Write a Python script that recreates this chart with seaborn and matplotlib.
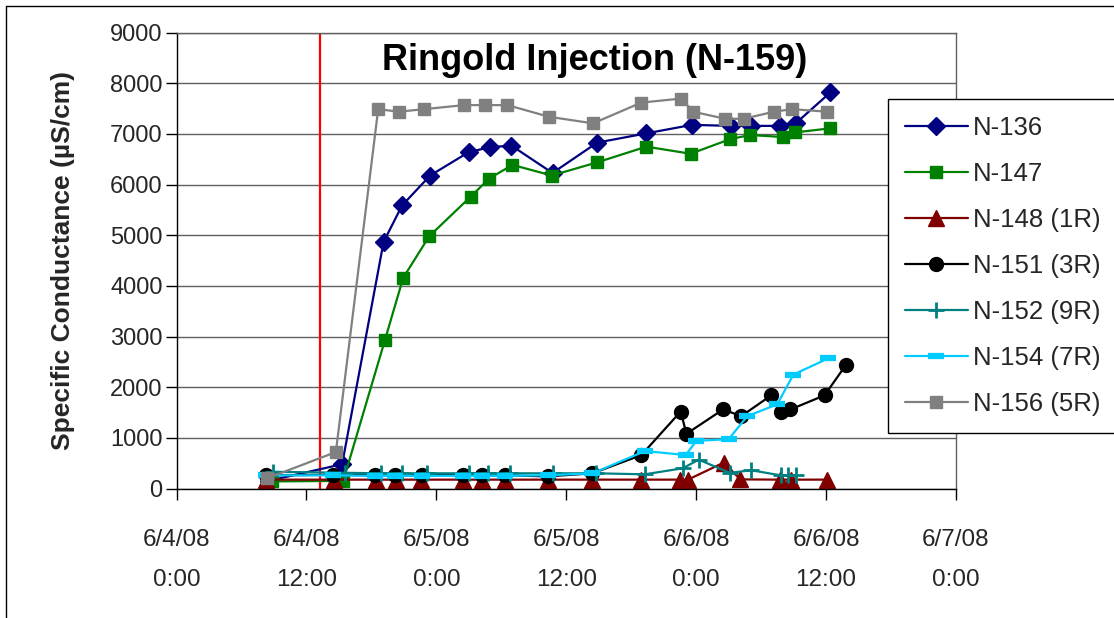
import numpy as np
import pandas as pd
import matplotlib
matplotlib.use("Agg")
import matplotlib.pyplot as plt
import seaborn as sns
from matplotlib.lines import Line2D

# ---------------- data (hours since 6/4/08 0:00, specific conductance µS/cm) ----------------
n136_hours = [8.5, 15.3, 19.13, 20.84, 23.43, 26.98, 28.94, 30.94, 34.73, 38.86, 43.34, 47.61, 51.25, 53.03, 55.71, 57.19, 60.39]
n136_vals = [150, 480, 4870, 5590, 6180, 6640, 6740, 6770, 6230, 6830, 7010, 7180, 7160, 7160, 7160, 7210, 7820]

n147_hours = [8.8, 15.4, 19.25, 20.94, 23.34, 27.16, 28.88, 31.03, 34.66, 38.86, 43.40, 47.49, 51.16, 53.00, 56.01, 57.09, 60.32]
n147_vals = [140, 150, 2930, 4160, 4980, 5760, 6120, 6390, 6180, 6440, 6750, 6610, 6900, 6980, 6940, 7030, 7110]

n148_hours = [8.26, 14.54, 18.46, 20.26, 22.57, 26.45, 28.25, 30.37, 34.34, 38.40, 42.88, 46.48, 47.24, 50.54, 52.08, 55.71, 56.79, 60.05]
n148_vals = [175, 175, 175, 175, 175, 175, 175, 175, 175, 175, 175, 175, 175, 510, 180, 175, 175, 175]

n151_hours = [8.26, 14.48, 18.32, 20.17, 22.63, 26.48, 28.18, 30.32, 34.32, 38.42, 42.94, 46.57, 47.10, 50.48, 52.17, 54.94, 55.80, 56.70, 59.86, 61.80]
n151_vals = [260, 270, 260, 260, 260, 270, 260, 260, 240, 300, 660, 1520, 1080, 1560, 1430, 1840, 1510, 1560, 1840, 2430]

n152_hours = [8.88, 15.55, 18.88, 20.79, 23.10, 27.03, 28.73, 30.79, 34.73, 38.79, 43.25, 46.78, 48.23, 51.09, 53.10, 55.80, 56.47, 57.25]
n152_vals = [330, 310, 300, 300, 300, 300, 300, 300, 300, 300, 280, 400, 570, 310, 360, 260, 260, 260]

n154_hours = [8.26, 14.45, 18.32, 20.17, 22.63, 26.45, 28.20, 30.32, 34.32, 38.42, 43.29, 47.03, 48.02, 51.00, 52.73, 55.48, 56.98, 60.21]
n154_vals = [260, 260, 250, 250, 250, 250, 250, 250, 260, 300, 740, 660, 940, 975, 1430, 1660, 2250, 2570]

n156_hours = [8.35, 14.72, 18.63, 20.54, 22.87, 26.54, 28.45, 30.57, 34.41, 38.47, 42.94, 46.63, 47.71, 50.70, 52.39, 55.18, 56.88, 60.11]
n156_vals = [200, 720, 7490, 7440, 7490, 7570, 7570, 7570, 7340, 7210, 7620, 7700, 7440, 7300, 7300, 7440, 7490, 7440]

series_names = ["N-136", "N-147", "N-148 (1R)", "N-151 (3R)", "N-152 (9R)", "N-154 (7R)", "N-156 (5R)"]
injection_hour = 13.3

x_ticks = [0, 12, 24, 36, 48, 60, 72]
x_tick_labels = ["6/4/08\n0:00", "6/4/08\n12:00", "6/5/08\n0:00", "6/5/08\n12:00",
                 "6/6/08\n0:00", "6/6/08\n12:00", "6/7/08\n0:00"]
y_ticks = [0, 1000, 2000, 3000, 4000, 5000, 6000, 7000, 8000, 9000]

title = "Ringold Injection (N-159)"
y_label = "Specific Conductance (µS/cm)"

# ---------------- styling ----------------
series_data = [
    (n136_hours, n136_vals),
    (n147_hours, n147_vals),
    (n148_hours, n148_vals),
    (n151_hours, n151_vals),
    (n152_hours, n152_vals),
    (n154_hours, n154_vals),
    (n156_hours, n156_vals),
]
colors = ["#000080", "#008000", "#800000", "#000000", "#008080", "#00CCFF", "#808080"]
markers = ["D", "s", "^", "o", "+", "_", "s"]
msizes = [9.5, 9, 11, 10, 12, 11, 9]
mews = [1, 1, 1, 1, 2, 4.5, 1]

sns.set_theme(style="white")
plt.rcParams["font.family"] = ["Liberation Sans", "DejaVu Sans"]

W, H = 1114, 618
fig = plt.figure(figsize=(W / 100, H / 100), dpi=100)
left, right, top, bottom = 176.5, 956.0, 32.7, 488.5
ax = fig.add_axes([left / W, 1 - bottom / H, (right - left) / W, (bottom - top) / H])

for name, (hrs, vals), c, m, ms, mw in zip(series_names, series_data, colors, markers, msizes, mews):
    df = pd.DataFrame({"hours": hrs, "value": vals})
    sns.lineplot(data=df, x="hours", y="value", ax=ax, color=c, marker=m,
                 markersize=ms, markeredgecolor=c, markerfacecolor=c,
                 markeredgewidth=mw, linewidth=1.6, label=name,
                 sort=False, estimator=None)

ax.axvline(injection_hour, color="#FF0000", lw=1.6, zorder=1.5)

ax.set_xlim(0, 72)
ax.set_ylim(0, 9000)
ax.set_xticks(x_ticks)
ax.set_xticklabels(x_tick_labels, fontsize=17.5, linespacing=2.05)
ax.set_yticks(y_ticks)
ax.set_yticklabels([str(v) for v in y_ticks], fontsize=17)
ax.set_xlabel("")
ax.set_ylabel(y_label, fontsize=19, fontweight="bold")
ax.yaxis.set_label_coords(-0.13, 0.5)

ax.tick_params(axis="both", which="both", direction="out", length=8, width=1,
               color="black", bottom=True, left=True)
ax.tick_params(axis="x", pad=21)
ax.tick_params(axis="y", pad=2)

ax.yaxis.grid(True, color="#606060", lw=1)
ax.xaxis.grid(False)
ax.set_axisbelow(True)

for s in ["left", "bottom"]:
    ax.spines[s].set_color("black")
    ax.spines[s].set_linewidth(1)
for s in ["top", "right"]:
    ax.spines[s].set_color("#606060")
    ax.spines[s].set_linewidth(1)

ax.text(0.5365, 0.94, title, transform=ax.transAxes, ha="center", va="center",
        fontsize=26, fontweight="bold", color="black")

leg = ax.legend(loc="upper left", bbox_to_anchor=(888 / W, 1 - 99 / H),
                bbox_transform=fig.transFigure, fontsize=18.5, frameon=True,
                fancybox=False, edgecolor="black", framealpha=1,
                handlelength=2.45, handletextpad=0.2, labelspacing=0.86,
                borderpad=0.65, borderaxespad=0)
leg.get_frame().set_linewidth(1)
leg.set_zorder(10)

# outer chart border (left and top)
fig.add_artist(Line2D([5.5 / W, 5.5 / W], [0, 1 - 6 / H], transform=fig.transFigure, color="black", lw=1))
fig.add_artist(Line2D([5.5 / W, 1], [1 - 6 / H, 1 - 6 / H], transform=fig.transFigure, color="black", lw=1))

fig.savefig("out.png", dpi=100)
